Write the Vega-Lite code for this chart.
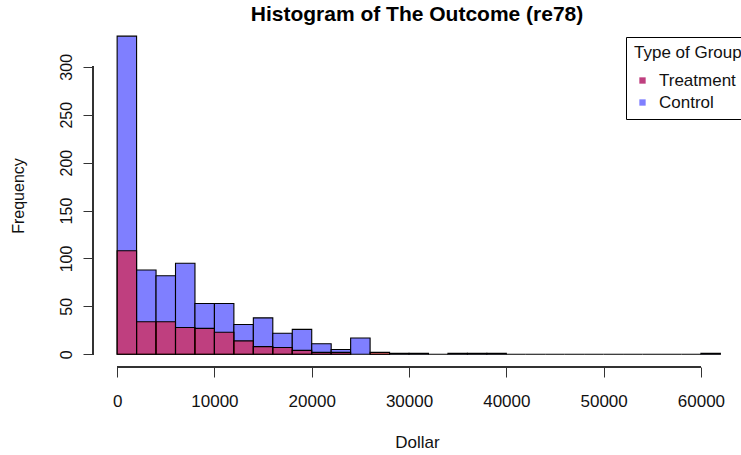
{
  "$schema": "https://vega.github.io/schema/vega-lite/v6.json",
  "width": 648,
  "height": 343,
  "autosize": {"type": "none"},
  "padding": {"left": 93, "top": 24, "right": 0, "bottom": 88},
  "background": "white",
  "title": {"text": "Histogram of The Outcome (re78)", "anchor": "middle", "frame": "group", "font": "Liberation Sans", "fontSize": 21, "fontWeight": "bold", "color": "#000000", "offset": -1},
  "config": {
    "view": {"stroke": null},
    "font": "Liberation Sans",
    "axisX": {"format": "d",
      "domain": false, "grid": false, "tickSize": 10, "tickColor": "#333333", "tickWidth": 1,
      "labelFont": "Liberation Sans", "labelFontSize": 17, "labelColor": "#111111", "labelPadding": 16,
      "labelBaseline": "top", "labelFlush": false, "labelOverlap": false,
      "titleFont": "Liberation Sans", "titleFontSize": 17, "titleFontWeight": "normal", "titleColor": "#111111", "titlePadding": 25},
    "axisY": {
      "domain": false, "grid": false, "tickSize": 10, "tickColor": "#333333", "tickWidth": 1,
      "labelFont": "Liberation Sans", "labelFontSize": 16, "labelColor": "#111111", "labelPadding": 12,
      "labelAngle": 270, "labelAlign": "center", "labelBaseline": "alphabetic", "labelFlush": false, "labelOverlap": false,
      "titleFont": "Liberation Sans", "titleFontSize": 16, "titleFontWeight": "normal", "titleColor": "#111111", "titlePadding": 32}
  },
  "datasets": {
    "bins": [
      {"group": "Control", "bin_start": 0, "bin_end": 2000, "count": 332},
      {"group": "Control", "bin_start": 2000, "bin_end": 4000, "count": 88},
      {"group": "Control", "bin_start": 4000, "bin_end": 6000, "count": 82},
      {"group": "Control", "bin_start": 6000, "bin_end": 8000, "count": 95},
      {"group": "Control", "bin_start": 8000, "bin_end": 10000, "count": 53},
      {"group": "Control", "bin_start": 10000, "bin_end": 12000, "count": 53},
      {"group": "Control", "bin_start": 12000, "bin_end": 14000, "count": 31},
      {"group": "Control", "bin_start": 14000, "bin_end": 16000, "count": 38},
      {"group": "Control", "bin_start": 16000, "bin_end": 18000, "count": 22},
      {"group": "Control", "bin_start": 18000, "bin_end": 20000, "count": 26},
      {"group": "Control", "bin_start": 20000, "bin_end": 22000, "count": 11},
      {"group": "Control", "bin_start": 22000, "bin_end": 24000, "count": 5},
      {"group": "Control", "bin_start": 24000, "bin_end": 26000, "count": 17},
      {"group": "Control", "bin_start": 26000, "bin_end": 28000, "count": 0},
      {"group": "Control", "bin_start": 28000, "bin_end": 30000, "count": 1},
      {"group": "Control", "bin_start": 30000, "bin_end": 32000, "count": 1},
      {"group": "Control", "bin_start": 32000, "bin_end": 34000, "count": 0},
      {"group": "Control", "bin_start": 34000, "bin_end": 36000, "count": 1},
      {"group": "Control", "bin_start": 36000, "bin_end": 38000, "count": 1},
      {"group": "Control", "bin_start": 38000, "bin_end": 40000, "count": 1},
      {"group": "Control", "bin_start": 40000, "bin_end": 42000, "count": 0},
      {"group": "Control", "bin_start": 42000, "bin_end": 44000, "count": 0},
      {"group": "Control", "bin_start": 44000, "bin_end": 46000, "count": 0},
      {"group": "Control", "bin_start": 46000, "bin_end": 48000, "count": 0},
      {"group": "Control", "bin_start": 48000, "bin_end": 50000, "count": 0},
      {"group": "Control", "bin_start": 50000, "bin_end": 52000, "count": 0},
      {"group": "Control", "bin_start": 52000, "bin_end": 54000, "count": 0},
      {"group": "Control", "bin_start": 54000, "bin_end": 56000, "count": 0},
      {"group": "Control", "bin_start": 56000, "bin_end": 58000, "count": 0},
      {"group": "Control", "bin_start": 58000, "bin_end": 60000, "count": 0},
      {"group": "Control", "bin_start": 60000, "bin_end": 62000, "count": 1},
      {"group": "Treatment", "bin_start": 0, "bin_end": 2000, "count": 108},
      {"group": "Treatment", "bin_start": 2000, "bin_end": 4000, "count": 34},
      {"group": "Treatment", "bin_start": 4000, "bin_end": 6000, "count": 34},
      {"group": "Treatment", "bin_start": 6000, "bin_end": 8000, "count": 28},
      {"group": "Treatment", "bin_start": 8000, "bin_end": 10000, "count": 27},
      {"group": "Treatment", "bin_start": 10000, "bin_end": 12000, "count": 23},
      {"group": "Treatment", "bin_start": 12000, "bin_end": 14000, "count": 14},
      {"group": "Treatment", "bin_start": 14000, "bin_end": 16000, "count": 8},
      {"group": "Treatment", "bin_start": 16000, "bin_end": 18000, "count": 7},
      {"group": "Treatment", "bin_start": 18000, "bin_end": 20000, "count": 4},
      {"group": "Treatment", "bin_start": 20000, "bin_end": 22000, "count": 2},
      {"group": "Treatment", "bin_start": 22000, "bin_end": 24000, "count": 2},
      {"group": "Treatment", "bin_start": 26000, "bin_end": 28000, "count": 2}
    ]
  },
  "data": {"name": "bins"},
  "layer": [
    {
      "transform": [{"filter": "datum.group === 'Control'"}],
      "mark": {"type": "bar", "stroke": "#000000", "strokeWidth": 1.1, "fillOpacity": 1},
      "encoding": {
        "x": {"field": "bin_start", "type": "quantitative", "title": "Dollar",
          "axis": {"values": [0, 10000, 20000, 30000, 40000, 50000, 60000]},
          "scale": {"domain": [-2480, 64120], "nice": false, "zero": false}},
        "x2": {"field": "bin_end"},
        "y": {"field": "count", "type": "quantitative", "title": "Frequency",
          "axis": {"values": [0, 50, 100, 150, 200, 250, 300]},
          "scale": {"domain": [-13.3, 344.7], "nice": false, "zero": false}},
        "y2": {"datum": 0},
        "color": {"field": "group", "type": "nominal",
          "scale": {"domain": ["Treatment", "Control"], "range": ["#BF3F7F", "#7F7FFF"]},
          "legend": {"title": "Type of Group", "orient": "none", "legendX": 533, "legendY": 13, "direction": "vertical",
            "strokeColor": "#000000", "fillColor": "#ffffff", "padding": 8,
            "titleFont": "Liberation Sans", "titleFontSize": 17, "titleFontWeight": "normal", "titleColor": "#111111", "titlePadding": 10,
            "labelFont": "Liberation Sans", "labelFontSize": 17, "labelColor": "#111111", "labelOffset": 8, "labelLimit": 200,
            "symbolType": "square", "symbolSize": 40, "symbolStrokeWidth": 0, "symbolOffset": 0, "symbolOpacity": 1, "rowPadding": 4}}
      }
    },
    {
      "transform": [{"filter": "datum.group === 'Treatment'"}],
      "mark": {"type": "bar", "fill": "#FF0000", "fillOpacity": 0.5, "stroke": "#000000", "strokeWidth": 1.1, "strokeOpacity": 1},
      "encoding": {
        "x": {"field": "bin_start", "type": "quantitative", "title": "Dollar",
          "axis": {"values": [0, 10000, 20000, 30000, 40000, 50000, 60000]}},
        "x2": {"field": "bin_end"},
        "y": {"field": "count", "type": "quantitative", "title": "Frequency",
          "axis": {"values": [0, 50, 100, 150, 200, 250, 300]}},
        "y2": {"datum": 0}
      }
    },
    {
      "mark": {"type": "rule", "color": "#333333", "strokeWidth": 1},
      "encoding": {
        "x": {"datum": 0, "type": "quantitative", "title": "Dollar",
          "axis": {"values": [0, 10000, 20000, 30000, 40000, 50000, 60000]}},
        "x2": {"datum": 60000},
        "y": {"datum": -13.3, "type": "quantitative", "title": "Frequency",
          "axis": {"values": [0, 50, 100, 150, 200, 250, 300]}}
      }
    },
    {
      "mark": {"type": "rule", "color": "#333333", "strokeWidth": 1},
      "encoding": {
        "x": {"datum": -2480, "type": "quantitative", "title": "Dollar",
          "axis": {"values": [0, 10000, 20000, 30000, 40000, 50000, 60000]}},
        "y": {"datum": 0, "type": "quantitative", "title": "Frequency",
          "axis": {"values": [0, 50, 100, 150, 200, 250, 300]}},
        "y2": {"datum": 300}
      }
    }
  ]
}
